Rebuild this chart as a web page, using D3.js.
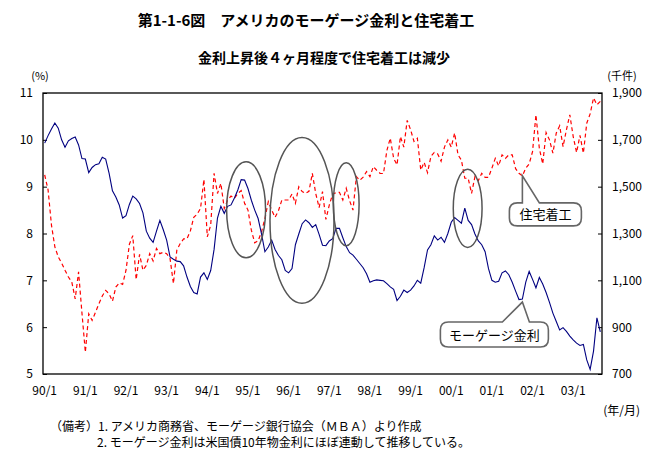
<!doctype html>
<html>
<head>
<meta charset="utf-8">
<title>第1-1-6図</title>
<script src="https://cdn.jsdelivr.net/npm/d3@7"></script>
<style>
    body { margin: 0; background: #fff; }
    svg text { font-family: "Noto Sans CJK JP", sans-serif; fill: #000; }
</style>
</head>
<body>
<svg width="645" height="462"></svg>
<script>
// years shown on the category axis (1990/1 - 2003/9, monthly)
var years = ["90", "91", "92", "93", "94", "95", "96", "97", "98", "99", "00", "01", "02", "03"];

// mortgage rate (%), left axis
var rate = [
    9.93, 10.09, 10.23, 10.36, 10.25, 10.0, 9.84, 9.98, 10.03, 10.06, 9.89, 9.6,
    9.59, 9.3, 9.41, 9.47, 9.49, 9.63, 9.59, 9.29, 8.91, 8.78, 8.61, 8.33,
    8.38, 8.62, 8.8, 8.74, 8.64, 8.44, 8.05, 7.9, 7.81, 8.05, 8.28, 8.08,
    7.86, 7.5, 7.45, 7.41, 7.4, 7.31, 7.07, 6.87, 6.74, 6.71, 7.07, 7.16,
    7.02, 7.21, 7.66, 8.33, 8.58, 8.43, 8.58, 8.61, 8.76, 8.93, 9.15, 9.14,
    8.96, 8.71, 8.5, 8.32, 7.99, 7.61, 7.71, 7.86, 7.66, 7.53, 7.44, 7.21,
    7.16, 7.25, 7.76, 7.99, 8.21, 8.29, 8.23, 8.13, 8.19, 7.98, 7.75, 7.74,
    7.84, 7.89, 8.11, 8.11, 7.91, 7.72, 7.59, 7.54, 7.45, 7.36, 7.27, 7.14,
    6.96, 6.99, 7.01, 7.0, 6.99, 6.93, 6.86, 6.81, 6.57, 6.66, 6.79, 6.74,
    6.79, 6.88, 7.0, 6.94, 7.27, 7.65, 7.76, 7.95, 7.86, 7.92, 7.81, 8.0,
    8.24, 8.34, 8.28, 8.22, 8.54, 8.28, 8.19, 7.99, 7.84, 7.76, 7.61, 7.25,
    7.0, 6.96, 6.98, 7.16, 7.2, 7.12, 6.96, 6.77, 6.59, 6.6, 6.96, 7.19,
    7.02, 6.84, 7.06, 6.92, 6.74, 6.53, 6.3, 6.12, 5.94, 5.99, 5.91, 5.81,
    5.73, 5.66, 5.61, 5.63, 5.3, 5.1, 5.49, 6.2, 5.9
];

// housing starts (thousand units, annual rate), right axis
var starts = [
    1550, 1486, 1336, 1243, 1200, 1174, 1143, 1114, 1093, 1021, 1136, 960,
    793, 957, 929, 964, 1000, 1033, 1057, 1043, 1011, 1071, 1089, 1083,
    1143, 1254, 1291, 1103, 1211, 1143, 1164, 1214, 1183, 1236, 1214, 1220,
    1214, 1193, 1086, 1229, 1257, 1277, 1277, 1311, 1369, 1383, 1407, 1531,
    1286, 1336, 1557, 1471, 1514, 1407, 1443, 1460, 1450, 1471, 1483, 1429,
    1400, 1314, 1260, 1269, 1307, 1364, 1436, 1400, 1369, 1397, 1443, 1443,
    1443, 1469, 1429, 1500, 1479, 1471, 1480, 1557, 1471, 1411, 1479, 1360,
    1421, 1469, 1474, 1476, 1443, 1493, 1440, 1400, 1543, 1527, 1541, 1564,
    1543, 1586, 1570, 1557, 1556, 1654, 1707, 1621, 1593, 1714, 1669, 1783,
    1743, 1693, 1707, 1571, 1604, 1560, 1629, 1646, 1640, 1609, 1669, 1700,
    1669, 1729, 1636, 1613, 1536, 1536, 1471, 1543, 1526, 1557, 1540, 1540,
    1579, 1621, 1589, 1636, 1621, 1636, 1636, 1577, 1557, 1546, 1579, 1597,
    1650, 1807, 1664, 1597, 1731, 1700, 1643, 1729, 1760, 1671, 1743, 1807,
    1714, 1646, 1719, 1643, 1771, 1811, 1879, 1850, 1864
];

var rateTicks = [5, 6, 7, 8, 9, 10, 11];
var startTicks = [700, 900, 1100, 1300, 1500, 1700, 1900];

// circled periods: [from month index, to month index, low %, high %]
var circles = [
    [53.7, 65.2, 7.48, 9.53],
    [66.5, 85.4, 6.51, 10.05],
    [85.2, 92.8, 7.74, 9.51],
    [120.6, 129.1, 7.70, 9.37]
];

var months = [];
years.forEach(function(y) {
    d3.range(1, 13).forEach(function(m) { months.push(y + "/" + m); });
});
months = months.slice(0, rate.length);

var svg = d3.select("svg"),
    plotL = 43, plotR = 602, plotT = 93, plotB = 374;

var x = d3.scaleBand().domain(months).range([plotL, plotR]);
var xi = d3.scaleLinear().domain([-0.5, months.length - 0.5]).range([plotL, plotR]);
var yL = d3.scaleLinear().domain([5, 11]).range([plotB, plotT]);
var yR = d3.scaleLinear().domain([700, 1900]).range([plotB, plotT]);

function cx(i) { return x(months[i]) + x.bandwidth() / 2; }

// titles
svg.append("text").attr("x", 306).attr("y", 26).attr("text-anchor", "middle")
    .attr("font-size", 15).attr("font-weight", "bold")
    .text("第1-1-6図　アメリカのモーゲージ金利と住宅着工");
svg.append("text").attr("x", 324).attr("y", 63).attr("text-anchor", "middle")
    .attr("font-size", 14).attr("font-weight", "bold")
    .text("金利上昇後４ヶ月程度で住宅着工は減少");

svg.append("text").attr("x", 40).attr("y", 80).attr("text-anchor", "middle")
    .attr("font-size", 11).text("(%)");
svg.append("text").attr("x", 622).attr("y", 80).attr("text-anchor", "middle")
    .attr("font-size", 11).text("(千件)");

// axes
var gl = svg.append("g").attr("transform", "translate(" + plotL + ",0)")
    .call(d3.axisLeft(yL).tickValues(rateTicks).tickFormat(d3.format("d"))
        .tickSizeInner(-4).tickSizeOuter(0).tickPadding(10));
var gr = svg.append("g").attr("transform", "translate(" + plotR + ",0)")
    .call(d3.axisRight(yR).tickValues(startTicks).tickFormat(d3.format(","))
        .tickSizeInner(-4).tickSizeOuter(0).tickPadding(10));
var gb = svg.append("g").attr("transform", "translate(0," + plotB + ")")
    .call(d3.axisBottom(x).tickValues(months.filter(function(m) { return /\/1$/.test(m); }))
        .tickSize(0).tickPadding(12));

[gl, gr, gb].forEach(function(g) {
    g.select(".domain").remove();
    g.selectAll("text").attr("font-size", 12).attr("font-family", "\"Noto Sans CJK JP\", sans-serif");
    g.selectAll("line").attr("stroke", "#000");
});

// lines
svg.append("path").datum(starts)
    .attr("fill", "none").attr("stroke", "#ff0000").attr("stroke-width", 1.2)
    .attr("stroke-dasharray", "4,3")
    .attr("d", d3.line().x(function(d, i) { return cx(i); }).y(function(d) { return yR(d); }));

svg.append("path").datum(rate)
    .attr("fill", "none").attr("stroke", "#000080").attr("stroke-width", 1.1)
    .attr("d", d3.line().x(function(d, i) { return cx(i); }).y(function(d) { return yL(d); }));

// plot frame
svg.append("rect").attr("x", plotL).attr("y", plotT)
    .attr("width", plotR - plotL).attr("height", plotB - plotT)
    .attr("fill", "none").attr("stroke", "#000").attr("stroke-width", 1.3);

// ellipses
svg.append("g").selectAll("ellipse").data(circles).enter().append("ellipse")
    .attr("cx", function(d) { return (xi(d[0]) + xi(d[1])) / 2; })
    .attr("cy", function(d) { return (yL(d[2]) + yL(d[3])) / 2; })
    .attr("rx", function(d) { return (xi(d[1]) - xi(d[0])) / 2; })
    .attr("ry", function(d) { return (yL(d[2]) - yL(d[3])) / 2; })
    .attr("fill", "none").attr("stroke", "#555").attr("stroke-width", 1.5);

// callout boxes
function callout(tx, ty, bx, by, bw, bh, baseL, baseR, label) {
    var r = 8;
    var p = d3.path();
    p.moveTo(bx + r, by);
    p.lineTo(baseL, by);
    p.lineTo(tx, ty);
    p.lineTo(baseR, by);
    p.lineTo(bx + bw - r, by);
    p.quadraticCurveTo(bx + bw, by, bx + bw, by + r);
    p.lineTo(bx + bw, by + bh - r);
    p.quadraticCurveTo(bx + bw, by + bh, bx + bw - r, by + bh);
    p.lineTo(bx + r, by + bh);
    p.quadraticCurveTo(bx, by + bh, bx, by + bh - r);
    p.lineTo(bx, by + r);
    p.quadraticCurveTo(bx, by, bx + r, by);
    p.closePath();
    svg.append("path").attr("d", p.toString())
        .attr("fill", "#fff").attr("stroke", "#666").attr("stroke-width", 1.6);
    svg.append("text").attr("x", bx + bw / 2).attr("y", by + bh / 2 + 5)
        .attr("text-anchor", "middle").attr("font-size", 13).text(label);
}

var tip1x = cx(141), tip1y = yR(starts[141]);
callout(tip1x, tip1y, tip1x - 13, tip1y + 27, 72, 23, tip1x, tip1x + 17, "住宅着工");
var tip2x = cx(141), tip2y = yL(rate[141]) + 3;
callout(tip2x, tip2y, tip2x - 82, tip2y + 20, 108, 25, tip2x - 20, tip2x + 7, "モーゲージ金利");

// footer
svg.append("text").attr("x", 640).attr("y", 415).attr("text-anchor", "end")
    .attr("font-size", 12).text("(年/月)");
svg.append("text").attr("x", 50).attr("y", 431).attr("font-size", 12)
    .text("（備考）1. アメリカ商務省、モーゲージ銀行協会（ＭＢＡ）より作成");
svg.append("text").attr("x", 97).attr("y", 447).attr("font-size", 12)
    .text("2. モーゲージ金利は米国債10年物金利にほぼ連動して推移している。");
</script>
</body>
</html>
